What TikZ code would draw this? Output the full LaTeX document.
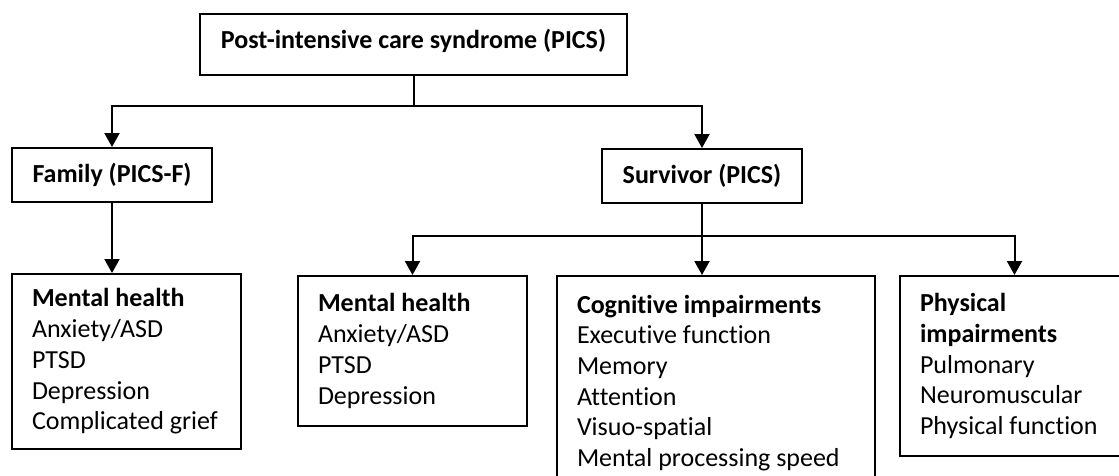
\documentclass[tikz,border=0pt]{standalone}
\usepackage{fontspec}
\setmainfont{Carlito}[Ligatures=NoCommon]
\usetikzlibrary{arrows.meta}

\begin{document}
\begin{tikzpicture}[x=1pt,y=-1pt,
		box/.style={draw,line width=2pt,inner sep=0pt,anchor=north west,font=\fontsize{26}{30.7}\selectfont},
		title/.style={box,font=\bfseries\fontsize{26}{30.7}\selectfont},
		listbox/.style={box,align=flush left,text width=189pt,inner xsep=20pt},
		arr/.style={line width=2pt,-{Triangle[width=15pt,length=14pt]}}]
		\useasboundingbox (0,0) rectangle (1119,475);
		\clip (0,0) rectangle (1119,475);
		\node[title,minimum width=427pt,minimum height=61pt,text height=17pt,text depth=9pt] (pics) at (199,13) {Post-intensive care syndrome (PICS)};
		\node[title,minimum width=200pt,minimum height=54pt] (family) at (11,147) {Family (PICS-F)};
		\node[title,minimum width=200pt,minimum height=54pt] (survivor) at (601,148) {Survivor (PICS)};
		\node[listbox,minimum height=175pt] (fmental) at (11,273) {\textbf{Mental health}\\Anxiety/ASD\\PTSD\\Depression\\Complicated grief};
		\node[listbox,minimum height=150pt] (smental) at (297,275) {\textbf{Mental health}\\Anxiety/ASD\\PTSD\\Depression};
		\node[listbox,text width=278pt,minimum height=214pt] (cog) at (556,275) {\textbf{Cognitive impairments}\\Executive function\\Memory\\Attention\\Visuo-spatial\\Mental processing speed};
		\node[listbox,minimum height=180pt] (physical) at (899,275) {\textbf{Physical}\\\textbf{impairments}\\Pulmonary\\Neuromuscular\\Physical function};
		\draw[line width=2pt] (pics.south) -- ++(0,30) coordinate (tbar);
		\draw[arr] (tbar) -| (family.north);
		\draw[arr] (tbar) -| (survivor.north);
		\draw[arr] (family.south) -- (family.south |- fmental.north);
		\draw[arr] (survivor.south) -- (survivor.south |- cog.north);
		\path (survivor.south) ++(0,32) coordinate (sbar);
		\draw[arr] (sbar) -| (smental.north);
		\draw[arr] (sbar) -| (physical.north);
	\end{tikzpicture}
\end{document}
